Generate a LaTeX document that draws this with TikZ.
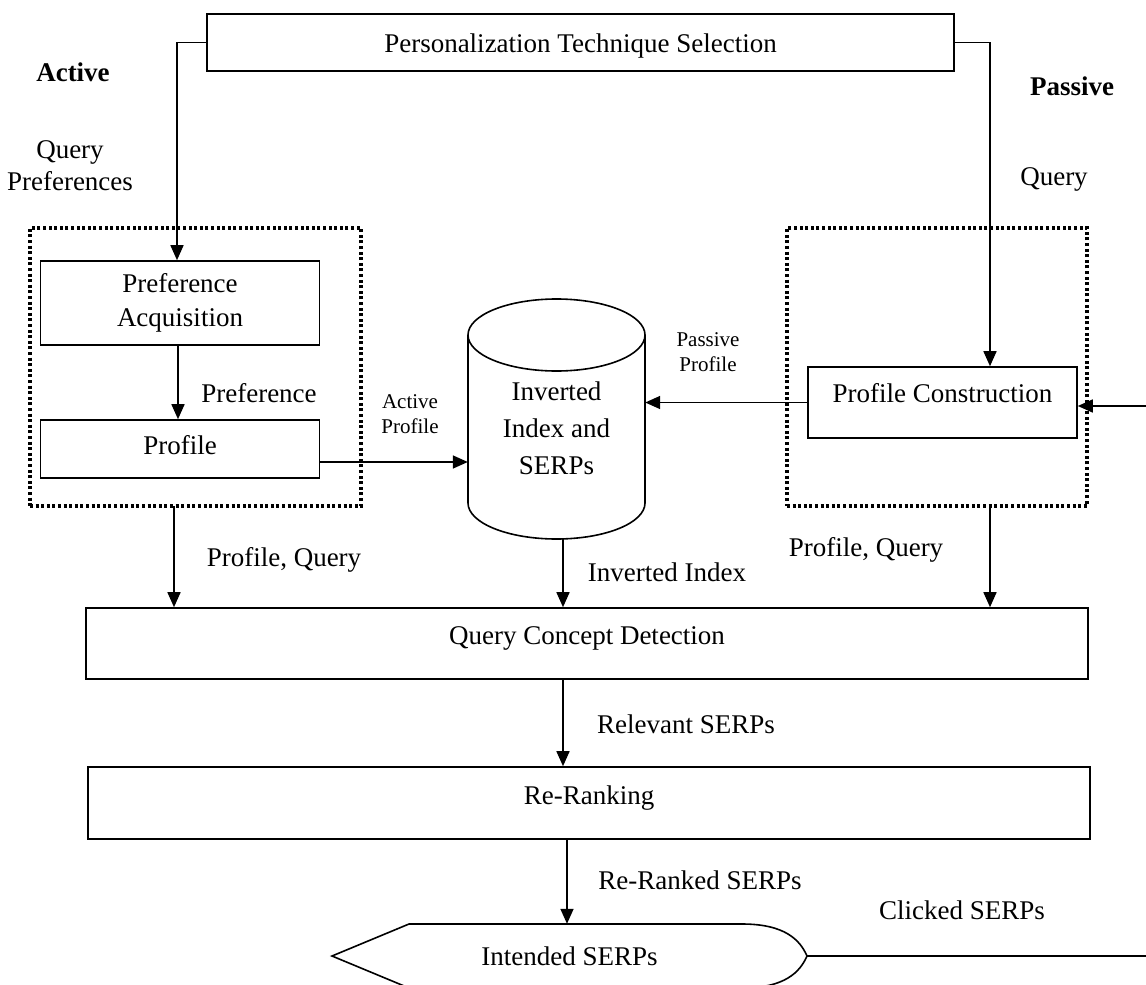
\documentclass[tikz,border=0pt]{standalone}
\usepackage{fontspec}
\setmainfont{Liberation Serif}
\usetikzlibrary{arrows.meta}
\newcommand{\dgbig}{\fontsize{27}{34}\selectfont}
\newcommand{\dgsmall}{\fontsize{21}{25}\selectfont}
\begin{document}
\begin{tikzpicture}[x=1pt,y=-1pt,
  line/.style={line width=1.6pt},
  box/.style={draw, line width=1.6pt, inner sep=0pt, font=\dgbig},
  arr/.style={line width=1.6pt, -{Triangle[length=15pt,width=13pt]}},
  grp/.style={draw, line width=3.4pt, dash pattern=on 3pt off 2.6pt, inner sep=0pt},
  lbl/.style={inner sep=0pt, font=\dgbig, align=center},
  slbl/.style={inner sep=0pt, font=\dgsmall, align=center}]
\useasboundingbox (0,0) rectangle (1146,985);
\fill[white] (0,0) rectangle (1146,985);

% boxes
\node[box, minimum width=747pt, text height=38pt, text depth=19pt, anchor=base] (top) at (580.5,52) {Personalization Technique Selection};
\node[box, minimum width=279pt, minimum height=84pt, align=center, font=\fontsize{27}{34}\selectfont] (pa) at (180,303) {Preference\\Acquisition};
\node[box, minimum width=279pt, text height=34pt, text depth=24pt, anchor=base] (prof) at (180,454) {Profile};
\node[box, minimum width=269pt, text height=35pt, text depth=36pt, anchor=base] (pc) at (942.5,402) {Profile Construction};
\node[box, minimum width=1002pt, text height=36pt, text depth=35pt, anchor=base] (qcd) at (587,644) {Query Concept Detection};
\node[box, minimum width=1002pt, text height=37pt, text depth=35pt, anchor=base] (rr) at (589,804) {Re-Ranking};

% dotted groups
\node[grp, minimum width=331pt, minimum height=278pt] (lgrp) at (195.5,367) {};
\node[grp, minimum width=300pt, minimum height=278pt] (rgrp) at (937,367) {};

% database cylinder
\node[inner sep=0pt, minimum width=177pt, minimum height=240pt] (db) at (556.5,419) {};
\draw[line] (468,335) -- (468,503) arc[start angle=180, end angle=360, x radius=88.5pt, y radius=36pt] -- (645,335);
\draw[line] (556.5,335) ellipse [x radius=88.5pt, y radius=36pt];
\node[lbl, font=\fontsize{27}{37}\selectfont] (dbt) at (556.5,428) {Inverted\\Index and\\SERPs};

% intended SERPs display shape
\node[inner sep=0pt, minimum width=475pt, minimum height=64pt, font=\dgbig] (intd) at (569.5,956) {Intended SERPs};
\draw[line] (332,956) -- (409,924) -- (742,924) .. controls (785,924) and (800,940) .. (807,956)
  .. controls (800,972) and (785,988) .. (742,988) -- (409,988) -- cycle;

% labels
\node[lbl, font=\bfseries\dgbig] (lact) at (73,72) {Active};
\node[lbl, font=\fontsize{27}{32}\selectfont] (lqp) at (70,166) {Query\\Preferences};
\node[lbl, font=\bfseries\dgbig] (lpas) at (1072,86) {Passive};
\node[lbl] (lq) at (1054,179) {Query};
\node[lbl] (lpref) at (259,393) {Preference};
\node[slbl] (lap) at (410,414) {Active\\Profile};
\node[slbl] (lpp) at (708,352) {Passive\\Profile};
\node[lbl] (lpq1) at (284,560) {Profile, Query};
\node[lbl] (lii) at (667,572) {Inverted Index};
\node[lbl] (lpq2) at (866,550) {Profile, Query};
\node[lbl] (lrel) at (686,724) {Relevant SERPs};
\node[lbl] (lrr) at (700,880) {Re-Ranked SERPs};
\node[lbl] (lcl) at (962,910) {Clicked SERPs};

% connectors
\draw[arr] (top.west) -| ([xshift=-3pt]pa.north);
\draw[arr] (top.east) -| ([xshift=47.5pt]pc.north);
\draw[arr] ([xshift=-2pt]pa.south) -- ([xshift=-2pt]prof.north);
\coordinate (p1) at (320,462);
\draw[arr] (p1) -- (p1 -| db.west);
\draw[arr] (pc.west) -- (pc.west -| db.east);
\coordinate (rin) at (1146,406);
\draw[arr] (rin) -- (rin -| pc.east);
\coordinate (l1) at (174,506);
\draw[arr] (l1) -- (l1 |- qcd.north);
\coordinate (r1) at (990,506);
\draw[arr] (r1) -- (r1 |- qcd.north);
\coordinate (d1) at (563,539);
\draw[arr] (d1) -- (d1 |- qcd.north);
\coordinate (q1) at (563,678);
\draw[arr] (q1) -- (q1 |- rr.north);
\coordinate (k1) at (567,839);
\draw[arr] (k1) -- (k1 |- intd.north);
\coordinate (rend) at (1146,956);
\draw[line] (intd.east) -- (rend);
\end{tikzpicture}
\end{document}
